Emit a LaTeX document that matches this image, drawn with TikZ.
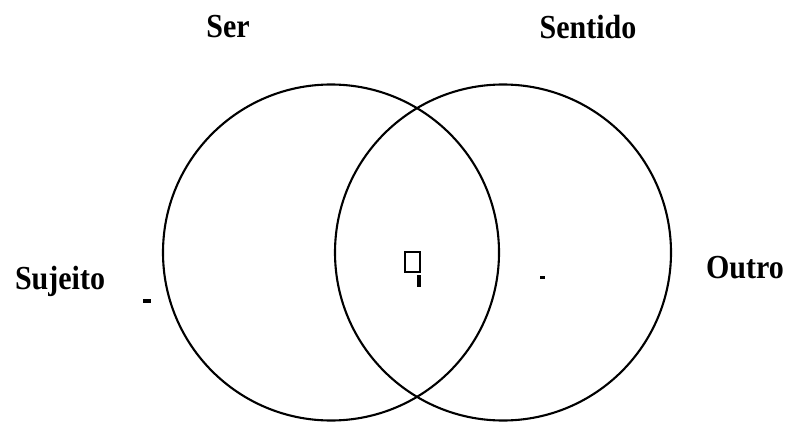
\documentclass[tikz,border=0pt]{standalone}
\usepackage{fontspec}
\setmainfont{Liberation Serif}
\usetikzlibrary{positioning}

\begin{document}
\begin{tikzpicture}[x=1pt,y=-1pt,
  venn/.style={draw,circle,line width=2.1pt,minimum size=336pt,inner sep=0pt},
  tag/.style={font=\fontsize{30}{36}\selectfont\bfseries,inner sep=0pt,yscale=1.12},
  speck/.style={fill=black,inner sep=0pt}]
\useasboundingbox (0,0) rectangle (789,422);
% the two circles
\node[venn] (ser) at (331,252.5) {};
\node[venn] (sentido) at (503,252.5) {};
% labels
\node[tag] (lser) at (228,27) {Ser};
\node[tag] (lsentido) at (588,27) {Sentido};
\node[tag] (lsujeito) at (60,281) {Sujeito};
\node[tag] (loutro) at (745,268) {Outro};
% stray marks
\draw[line width=1.6pt] (405,252) rectangle (420,272);
\fill (417,275) rectangle (421,287);
\fill (143,299) rectangle (151,303);
\fill (540,276) rectangle (545,279);
\end{tikzpicture}
\end{document}
